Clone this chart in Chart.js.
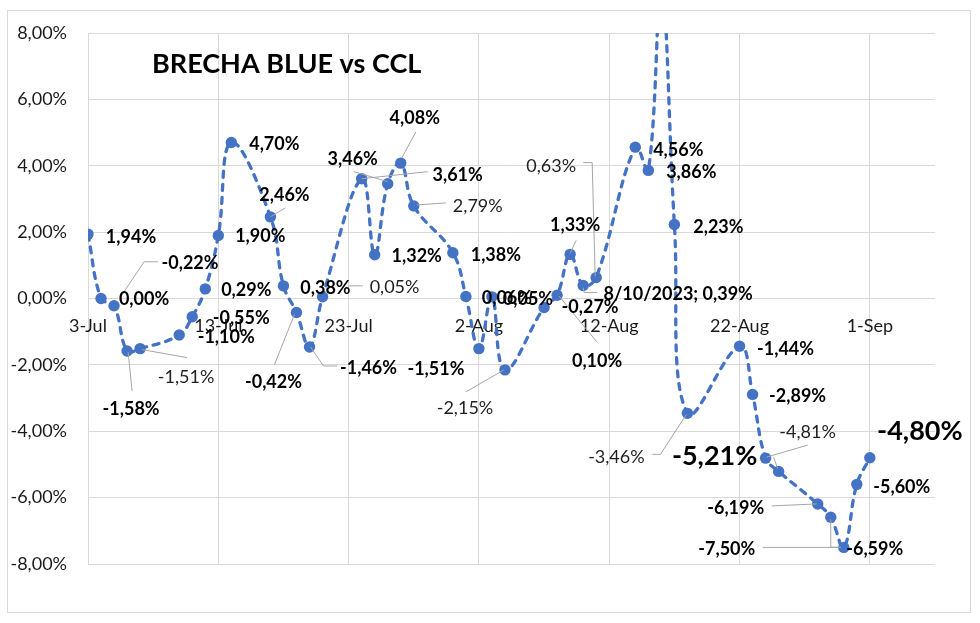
<!DOCTYPE html>
<html><head><meta charset="utf-8">
<script src="https://cdn.jsdelivr.net/npm/chart.js@4.4.0/dist/chart.umd.min.js"></script>
<style>html,body{margin:0;padding:0;background:#fff;}canvas{display:block;}</style>
</head><body>
<canvas id="c" width="980" height="623"></canvas>
<script>
// ---------- DATA ----------
const chartTitle = 'BRECHA BLUE vs CCL';
const dates = ['2023-07-03','2023-07-04','2023-07-05','2023-07-06','2023-07-07',
  '2023-07-10','2023-07-11','2023-07-12','2023-07-13','2023-07-14',
  '2023-07-17','2023-07-18','2023-07-19','2023-07-20','2023-07-21',
  '2023-07-24','2023-07-25','2023-07-26','2023-07-27','2023-07-28',
  '2023-07-31','2023-08-01','2023-08-02','2023-08-03','2023-08-04',
  '2023-08-07','2023-08-08','2023-08-09','2023-08-10','2023-08-11',
  '2023-08-14','2023-08-15','2023-08-16','2023-08-17','2023-08-18',
  '2023-08-22','2023-08-23','2023-08-24','2023-08-25',
  '2023-08-28','2023-08-29','2023-08-30','2023-08-31','2023-09-01'];
const gapValues = [1.94,0.00,-0.22,-1.58,-1.51,
  -1.10,-0.55,0.29,1.90,4.70,
  2.46,0.38,-0.42,-1.46,0.05,
  3.61,1.32,3.46,4.08,2.79,
  1.38,0.06,-1.51,0.05,-2.15,
  -0.27,0.10,1.33,0.39,0.63,
  4.56,3.86,9.5,2.23,-3.46,
  -1.44,-2.89,-4.81,-5.21,
  -6.19,-6.59,-7.50,-5.60,-4.80];
const labelTexts = ['1,94%','0,00%','-0,22%','-1,58%','-1,51%',
  '-1,10%','-0,55%','0,29%','1,90%','4,70%',
  '2,46%','0,38%','-0,42%','-1,46%','0,05%',
  '3,61%','1,32%','3,46%','4,08%','2,79%',
  '1,38%','0,06%','-1,51%','0,05%','-2,15%',
  '-0,27%','0,10%','1,33%','8/10/2023; 0,39%','0,63%',
  '4,56%','3,86%','','2,23%','-3,46%',
  '-1,44%','-2,89%','-4,81%','-5,21%',
  '-6,19%','-6,59%','-7,50%','-5,60%','-4,80%'];
const startDate = '2023-07-03';
const xTickLabels = ['3-Jul','13-Jul','23-Jul','2-Aug','12-Aug','22-Aug','1-Sep'];

// ---------- LABEL STYLE / PLACEMENT (relative to each point) ----------
const labelStyles = ['b','b','b','b','r', 'b','b','b','b','b', 'b','b','b','b','r',
  'b','b','b','b','r', 'b','b','b','b','r', 'b','b','b','b','r',
  'b','b','','b','r', 'b','b','r','L', 'b','b','b','b','L'];
const labelOffsets = [[43,3],[43,1],[76,-43],[4,58],[46,29],
  [47,2],[49,1],[41,1],[42,1],[43,2],
  [14,-22],[42,2],[-23,70],[59,21],[72,-10],
  [96,-4],[42,1],[-35,-24],[14,-45],[64,0],
  [43,2],[41,2],[-43,21],[36,2],[-40,38],
  [46,0],[40,66],[5,-29],[95,9],[-45,-111],
  [43,3],[43,2],[0,0],[44,3],[-71,44],
  [46,3],[45,2],[42,-26],[-64,-15],
  [-82,4],[44,32],[-117,2],[45,3],[50,-27]];
const leaderLines = {
  2:[[6,-8],[30,-44],[44,-44]],
  3:[[1,1],[5,40]],
  4:[[2,1],[47,9]],
  10:[[0,0],[15,-9]],
  12:[[-2,2],[-22,52]],
  13:[[1,0],[14,19],[28,19]],
  14:[[26,-11],[40,-11]],
  15:[[0,0],[66,-7]],
  17:[[-34,-12],[0,-2]],
  18:[[1,-5],[15,-31]],
  19:[[3,-1],[32,-3]],
  24:[[-1,0],[-39,22]],
  26:[[2,1],[40,47]],
  27:[[0,-1],[6,-14]],
  28:[[0,2],[1,7],[14,7]],
  29:[[-1,-1],[-4,-115],[-13,-115]],
  34:[[-1,1],[-27,41],[-35,41]],
  37:[[1,-1],[42,-13]],
  38:[[-5,-14],[-1,-3]],
  39:[[-1,0],[-46,2]],
  40:[[0,2],[0,30],[10,30]],
  41:[[-3,0],[-81,0]]
};

function dayIndex(s){
  const p=s.split('-').map(Number), b=startDate.split('-').map(Number);
  return (Date.UTC(p[0],p[1]-1,p[2]) - Date.UTC(b[0],b[1]-1,b[2]))/86400000;
}
const points = dates.map((d,i)=>({x:dayIndex(d), y:gapValues[i]}));

const FONT='Lato';
const deco = {
  id:'deco',
  beforeDraw(chart){
    const c=chart.ctx; c.save();
    c.fillStyle='#fff'; c.fillRect(0,0,chart.width,chart.height);
    c.strokeStyle='#d9d9d9'; c.lineWidth=1;
    c.strokeRect(7.5,10.5,963,602);
    c.restore();
  },
  afterDatasetsDraw(chart){
    const c=chart.ctx; const meta=chart.getDatasetMeta(0);
    c.save();
    c.strokeStyle='#a6a6a6'; c.lineWidth=1;
    meta.data.forEach((pt,i)=>{
      const L=leaderLines[i]; if(!L) return;
      c.beginPath();
      L.forEach(([lx,ly],k)=>{ if(k) c.lineTo(pt.x+lx,pt.y+ly); else c.moveTo(pt.x+lx,pt.y+ly); });
      c.stroke();
    });
    c.textAlign='center'; c.textBaseline='middle';
    meta.data.forEach((pt,i)=>{
      const st=labelStyles[i]; if(!st) return;
      const [dx,dy]=labelOffsets[i];
      if(st==='b'){ c.font='bold 18px '+FONT; c.fillStyle='#000'; }
      else if(st==='L'){ c.font='bold 27px '+FONT; c.fillStyle='#000'; }
      else { c.font='18px '+FONT; c.fillStyle='#1f1f1f'; }
      c.fillText(labelTexts[i], pt.x+dx, pt.y+dy);
    });
    // title
    c.font='bold 27px '+FONT; c.fillStyle='#000'; c.textAlign='left';
    c.fillText(chartTitle, 152, 64);
    c.restore();
  }
};

function build(){
  Chart.defaults.font.family=FONT;
  new Chart(document.getElementById('c'),{
    type:'line',
    data:{datasets:[{data:points, borderColor:'#4472C4', borderWidth:3.3, borderDash:[6,7], borderCapStyle:'round',
      tension:0.4, pointRadius:5.7, pointHoverRadius:5.7, pointBackgroundColor:'#4472C4', pointBorderWidth:0, fill:false}]},
    options:{
      responsive:false, animation:false, events:[],
      layout:{padding:{left:0,top:33,right:45,bottom:59}},
      plugins:{legend:{display:false}, title:{display:false}, tooltip:{enabled:false}},
      scales:{
        x:{type:'linear', min:0, max:65, position:{y:0},
          afterBuildTicks:(s)=>{ s.ticks=s.ticks.filter(t=>t.value%10===0); },
          ticks:{stepSize:10, autoSkip:false, maxRotation:0, padding:17, color:'#1a1a1a', font:{size:18},
            callback:(v)=>xTickLabels[Math.round(v/10)]},
          grid:{color:'#d9d9d9', lineWidth:1, drawTicks:false}, border:{display:false}},
        y:{min:-8, max:8, afterFit:(s)=>{ s.width=88; },
          ticks:{stepSize:2, padding:21, color:'#1a1a1a', font:{size:18},
            callback:(v)=>v.toFixed(2).replace('.',',')+'%'},
          grid:{color:'#d9d9d9', lineWidth:1, drawTicks:false}, border:{display:false}}
      }
    },
    plugins:[deco]
  });
}
if(document.fonts && document.fonts.load){
  Promise.all([document.fonts.load('18px Lato'),document.fonts.load('bold 18px Lato')]).then(build,build);
} else build();
</script>
</body></html>
